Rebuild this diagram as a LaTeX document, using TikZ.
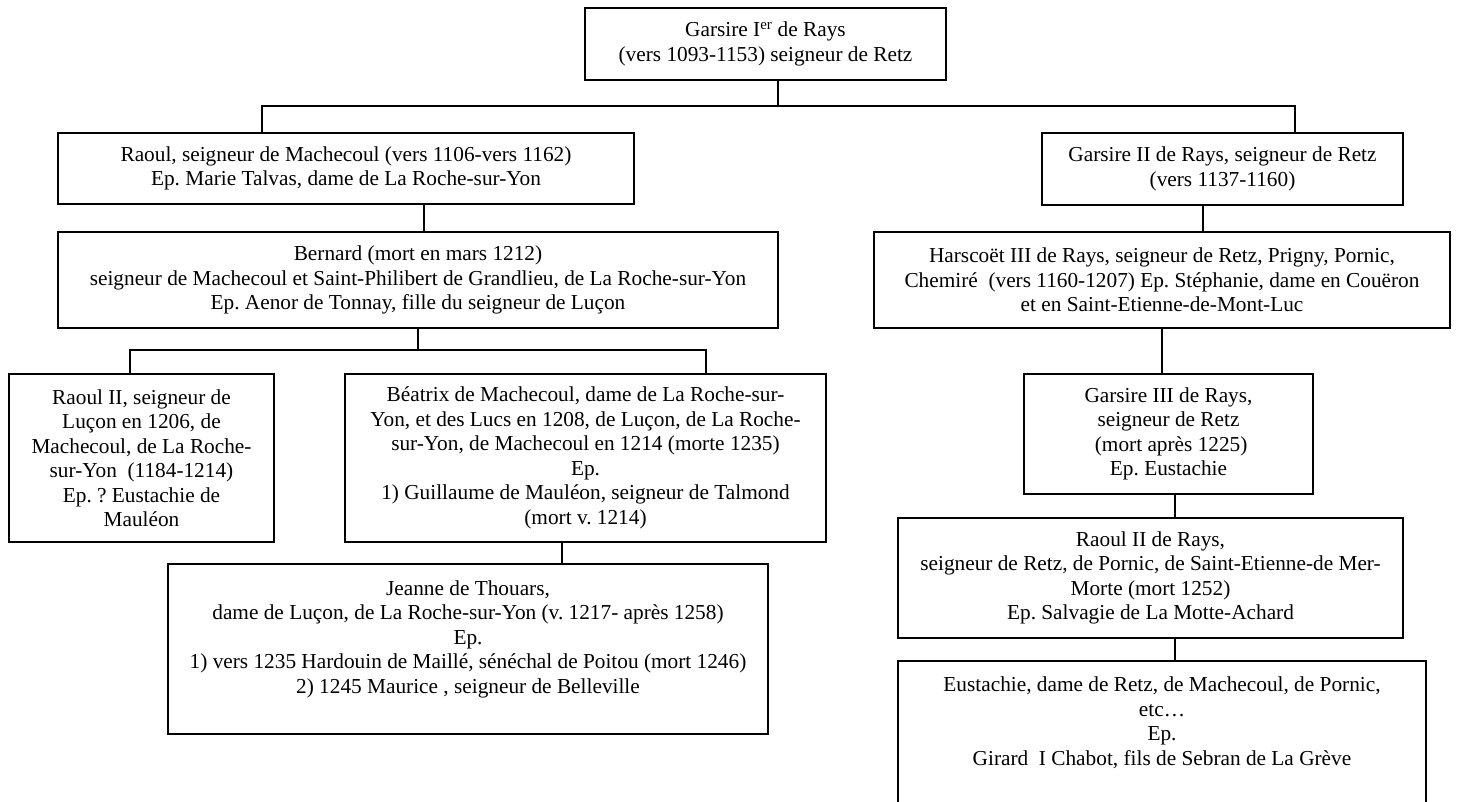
\documentclass[tikz,border=0pt]{standalone}
\usepackage{fontspec}
\setmainfont{Liberation Serif}
\usepackage{tikz}

\begin{document}
\frenchspacing
\begin{tikzpicture}[x=1pt,y=-1pt,
  person/.style={draw, line width=1.3pt, align=center, inner sep=0pt,
    font=\fontsize{21.3pt}{24.5pt}\selectfont},
  link/.style={line width=1.3pt}]
  \useasboundingbox (0,0) rectangle (1458,801);
  \clip (0,0) rectangle (1458,801);

  \node[person, minimum width=361pt, minimum height=72pt] (garsireI) at (765.5,44) {
    Garsire I\textsuperscript{er} de Rays\\(vers 1093-1153) seigneur de Retz};

  % branche de Machecoul
  \node[person, minimum width=576pt, minimum height=71pt] (raoul) at (346,168.5) {
    Raoul, seigneur de Machecoul (vers 1106-vers 1162)\\
    Ep. Marie Talvas, dame de La Roche-sur-Yon};
  \node[person, minimum width=720pt, minimum height=96pt] (bernard) at (418,280) {
    Bernard (mort en mars 1212)\\
    seigneur de Machecoul et Saint-Philibert de Grandlieu, de La Roche-sur-Yon\\
    Ep. Aenor de Tonnay, fille du seigneur de Luçon};
  \node[person, minimum width=265pt, minimum height=168pt] (raoulII) at (141.5,458) {
    Raoul II, seigneur de\\Luçon en 1206, de\\Machecoul, de La Roche-\\
    sur-Yon\ \ (1184-1214)\\Ep. ? Eustachie de\\Mauléon};
  \node[person, minimum width=481pt, minimum height=168pt] (beatrix) at (585.5,458) {
    Béatrix de Machecoul, dame de La Roche-sur-\\
    Yon, et des Lucs en 1208, de Luçon, de La Roche-\\
    sur-Yon, de Machecoul en 1214 (morte 1235)\\Ep.\\
    1) Guillaume de Mauléon, seigneur de Talmond\\(mort v. 1214)};
  \node[person, minimum width=600pt, minimum height=170pt] (jeanne) at (468,649) {
    Jeanne de Thouars,\\
    dame de Luçon, de La Roche-sur-Yon (v. 1217- après 1258)\\Ep.\\
    1) vers 1235 Hardouin de Maillé, sénéchal de Poitou (mort 1246)\\
    2) 1245 Maurice , seigneur de Belleville\\\mbox{}};

  % branche de Retz
  \node[person, minimum width=361pt, minimum height=72pt] (garsireII) at (1222.5,169) {
    Garsire II de Rays, seigneur de Retz\\(vers 1137-1160)};
  \node[person, minimum width=576pt, minimum height=96pt] (harscoet) at (1162,280) {
    Harscoët III de Rays, seigneur de Retz, Prigny, Pornic,\\
    Chemiré\ \ (vers 1160-1207) Ep. Stéphanie, dame en Couëron\\
    et en Saint-Etienne-de-Mont-Luc};
  \node[person, minimum width=289pt, minimum height=120pt] (garsireIII) at (1168.5,434) {
    Garsire III de Rays,\\seigneur de Retz\\\ (mort après 1225)\\Ep. Eustachie};
  \node[person, minimum width=505pt, minimum height=120pt] (raoulrays) at (1150.5,578) {
    Raoul II de Rays,\\
    seigneur de Retz, de Pornic, de Saint-Etienne-de Mer-\\
    Morte (mort 1252)\\Ep. Salvagie de La Motte-Achard};
  \node[person, minimum width=528pt, minimum height=169pt] (eustachie) at (1162,745.5) {
    Eustachie, dame de Retz, de Machecoul, de Pornic,\\etc…\\Ep.\\
    Girard\ \ I Chabot, fils de Sebran de La Grève\\\mbox{}\\\mbox{}};

  \coordinate (top) at (778,106);
  \coordinate (topl) at (262,106);
  \coordinate (topr) at (1295,106);
  \coordinate (c2) at (424,218);
  \coordinate (gen3) at (418,350);
  \coordinate (gen3l) at (130,350);
  \coordinate (gen3r) at (706,350);
  \coordinate (c4) at (562,553);
  \coordinate (c5) at (1203,218);
  \coordinate (c6) at (1162,350);
  \coordinate (c7) at (1175,506);
  \coordinate (c8) at (1175,650);

  \draw[link] (garsireI.south -| top) -- (top);
  \draw[link] (raoul.north -| topl) -- (topl) -- (topr) -- (garsireII.north -| topr);
  \draw[link] (raoul.south -| c2) -- (bernard.north -| c2);
  \draw[link] (bernard.south -| gen3) -- (gen3);
  \draw[link] (raoulII.north -| gen3l) -- (gen3l) -- (gen3r) -- (beatrix.north -| gen3r);
  \draw[link] (beatrix.south -| c4) -- (jeanne.north -| c4);
  \draw[link] (garsireII.south -| c5) -- (harscoet.north -| c5);
  \draw[link] (harscoet.south -| c6) -- (garsireIII.north -| c6);
  \draw[link] (garsireIII.south -| c7) -- (raoulrays.north -| c7);
  \draw[link] (raoulrays.south -| c8) -- (eustachie.north -| c8);
\end{tikzpicture}
\end{document}
